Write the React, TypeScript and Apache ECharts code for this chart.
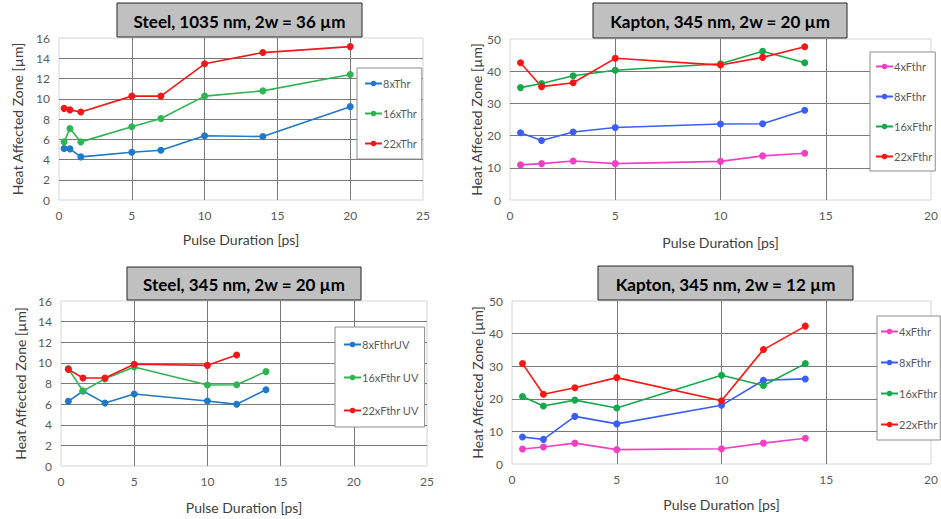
import React, { useEffect, useRef } from "react";
import * as echarts from "echarts";

// ---------- Data ----------
const steel1035X = [0.35, 0.75, 1.5, 5, 7, 10, 14, 20];
const steel1035_8x = [5.08, 5.05, 4.26, 4.72, 4.92, 6.34, 6.27, 9.22];
const steel1035_16x = [5.74, 7.06, 5.74, 7.23, 8.05, 10.26, 10.78, 12.4];
const steel1035_22x = [9.05, 8.9, 8.7, 10.26, 10.26, 13.45, 14.56, 15.15];

const kapton20X = [0.5, 1.5, 3, 5, 10, 12, 14];
const kapton20_4x = [10.9, 11.3, 12.1, 11.3, 12.0, 13.7, 14.5];
const kapton20_8x = [20.9, 18.5, 21.1, 22.5, 23.6, 23.7, 27.9];
const kapton20_16x = [34.9, 36.2, 38.6, 40.3, 42.3, 46.2, 42.6];
const kapton20_22x = [42.6, 35.2, 36.4, 44.0, 41.9, 44.3, 47.6];

const steel345X = [0.5, 1.5, 3, 5, 10, 12, 14];
const steel345_8x = [6.27, 7.27, 6.1, 6.98, 6.3, 5.98, 7.4];
const steel345_16x = [9.44, 7.27, 8.45, 9.6, 7.85, 7.88, 9.15];
const steel345_22xX = [0.5, 1.5, 3, 5, 10, 12];
const steel345_22x = [9.37, 8.53, 8.53, 9.87, 9.76, 10.76];

const kapton12X = [0.5, 1.5, 3, 5, 10, 12, 14];
const kapton12_4x = [4.6, 5.2, 6.4, 4.4, 4.7, 6.4, 7.9];
const kapton12_8x = [8.3, 7.55, 14.6, 12.3, 18.0, 25.7, 26.1];
const kapton12_16x = [20.7, 17.8, 19.6, 17.2, 27.2, 24.1, 30.8];
const kapton12_22x = [30.8, 21.4, 23.4, 26.5, 19.4, 35.1, 42.3];

const titles = [
  "Steel, 1035 nm, 2w = 36 µm",
  "Kapton, 345 nm, 2w = 20 µm",
  "Steel, 345 nm, 2w = 20 µm",
  "Kapton, 345 nm, 2w = 12 µm",
];
const xAxisName = "Pulse Duration [ps]";
const yAxisName = "Heat Affected Zone [µm]";

// ---------- Styles ----------
const FONT = "Lato, 'Open Sans', sans-serif";
const steelBlue = "#1F78C8";
const steelGreen = "#2DB551";
const steelRed = "#F01818";
const kPink = "#F23FC4";
const kBlue = "#3B5EF8";
const kGreen = "#14A94A";
const kRed = "#FF1414";

const pairs = (xs: number[], ys: number[]) => ys.map((y, i) => [xs[i], y]);

const grids = [
  { left: 59, top: 38, width: 364, height: 162 },
  { left: 510, top: 39, width: 422, height: 161 },
  { left: 61, top: 301, width: 366, height: 165 },
  { left: 512, top: 301, width: 425, height: 163 },
];
const xMax = [25, 20, 25, 20];
const yMax = [16, 50, 16, 50];
const yInt = [2, 10, 2, 10];
const yNameGap = [35, 27, 34, 28];
const xNameGap = [32, 35, 34, 33];
const titleBoxes = [
  { x: 117, y: 3, w: 245, h: 34 },
  { x: 593, y: 3, w: 254, h: 35 },
  { x: 127, y: 267, w: 234, h: 33 },
  { x: 598, y: 266, w: 255, h: 34 },
];
const legendPos = [
  { left: 357, top: 68, gap: 19, pad: [10, 5, 10, 7] },
  { left: 870, top: 52, gap: 19, pad: [9, 3, 9, 5] },
  { left: 335, top: 327, gap: 22, pad: [12, 6, 11, 8] },
  { left: 877, top: 316, gap: 20, pad: [10, 3, 10, 3] },
];

export default function App() {
  const ref = useRef<HTMLDivElement>(null);
  useEffect(() => {
    if (!ref.current) return;
    const chart = echarts.init(ref.current, null, { renderer: "svg" });

    const gridColor = "#7a7a7a";
    const xAxes = grids.map((_, i) => ({
      type: "value",
      gridIndex: i,
      min: 0,
      max: xMax[i],
      interval: 5,
      name: xAxisName,
      nameLocation: "middle",
      nameGap: xNameGap[i],
      nameTextStyle: { fontFamily: FONT, fontSize: 14, color: "#404040" },
      axisLine: { show: false },
      axisTick: { show: false },
      axisLabel: { fontFamily: FONT, fontSize: 12, color: "#595959", margin: 9 },
      splitLine: { show: true, showMinLine: false, showMaxLine: false, lineStyle: { color: gridColor, width: 1 } },
    }));
    const yAxes = grids.map((_, i) => ({
      type: "value",
      gridIndex: i,
      min: 0,
      max: yMax[i],
      interval: yInt[i],
      name: yAxisName,
      nameLocation: "middle",
      nameRotate: 90,
      nameGap: yNameGap[i],
      nameTextStyle: { fontFamily: FONT, fontSize: 14, color: "#404040" },
      axisLine: { show: false },
      axisTick: { show: false },
      axisLabel: { fontFamily: FONT, fontSize: 12, color: "#595959", margin: 9 },
      splitLine: { show: true, showMinLine: false, showMaxLine: false, lineStyle: { color: gridColor, width: 1 } },
    }));

    const mk = (name: string, idx: number, data: number[][], color: string) => ({
      type: "line",
      name,
      xAxisIndex: idx,
      yAxisIndex: idx,
      data,
      symbol: "circle",
      symbolSize: 7,
      showSymbol: true,
      lineStyle: { color, width: 1.6 },
      itemStyle: { color },
      z: 3,
    });

    const series = [
      mk("8xThr", 0, pairs(steel1035X, steel1035_8x), steelBlue),
      mk("16xThr", 0, pairs(steel1035X, steel1035_16x), steelGreen),
      mk("22xThr", 0, pairs(steel1035X, steel1035_22x), steelRed),
      mk("4xFthr", 1, pairs(kapton20X, kapton20_4x), kPink),
      mk("8xFthr", 1, pairs(kapton20X, kapton20_8x), kBlue),
      mk("16xFthr", 1, pairs(kapton20X, kapton20_16x), kGreen),
      mk("22xFthr", 1, pairs(kapton20X, kapton20_22x), kRed),
      mk("8xFthrUV", 2, pairs(steel345X, steel345_8x), steelBlue),
      mk("16xFthr UV", 2, pairs(steel345X, steel345_16x), steelGreen),
      mk("22xFthr UV", 2, pairs(steel345_22xX, steel345_22x), steelRed),
      mk("4xFthr", 3, pairs(kapton12X, kapton12_4x), kPink),
      mk("8xFthr", 3, pairs(kapton12X, kapton12_8x), kBlue),
      mk("16xFthr", 3, pairs(kapton12X, kapton12_16x), kGreen),
      mk("22xFthr", 3, pairs(kapton12X, kapton12_22x), kRed),
    ];

    const legendData = [
      ["8xThr", "16xThr", "22xThr"],
      ["4xFthr", "8xFthr", "16xFthr", "22xFthr"],
      ["8xFthrUV", "16xFthr UV", "22xFthr UV"],
      ["4xFthr", "8xFthr", "16xFthr", "22xFthr"],
    ];
    const legends = legendPos.map((p, i) => ({
      orient: "vertical",
      left: p.left,
      top: p.top,
      padding: p.pad,
      itemGap: p.gap,
      itemWidth: 17,
      itemHeight: 7,
      data: legendData[i],
      selectedMode: false,
      backgroundColor: "#ffffff",
      borderColor: "#8c8c8c",
      borderWidth: 1,
      textStyle: { fontFamily: FONT, fontSize: 11, color: "#595959", padding: [0, 0, 0, -4] },
      z: 10,
    }));

    const graphics: any[] = [];
    titleBoxes.forEach((b, i) => {
      graphics.push({
        type: "rect",
        shape: { x: b.x, y: b.y, width: b.w, height: b.h },
        style: { fill: "#c0c0c0", stroke: "#262626", lineWidth: 1 },
        z: 20,
      });
      graphics.push({
        type: "text",
        x: b.x + b.w / 2,
        y: b.y + b.h / 2 + 1,
        style: {
          text: titles[i],
          fontFamily: FONT,
          fontSize: 17,
          fontWeight: "bold",
          fill: "#000000",
          align: "center",
          verticalAlign: "middle",
        },
        z: 21,
      });
    });

    chart.setOption({
      animation: false,
      backgroundColor: "#ffffff",
      grid: grids.map((g) => ({
        ...g,
        show: true,
        borderColor: "#d4d4d4",
        borderWidth: 1,
        backgroundColor: "#ffffff",
      })),
      xAxis: xAxes,
      yAxis: yAxes,
      legend: legends,
      series,
      graphic: graphics,
    });
    return () => chart.dispose();
  }, []);
  return (
    <div
      ref={ref}
      style={{ position: "fixed", left: 0, top: 0, width: 941, height: 519, background: "#fff" }}
    />
  );
}
